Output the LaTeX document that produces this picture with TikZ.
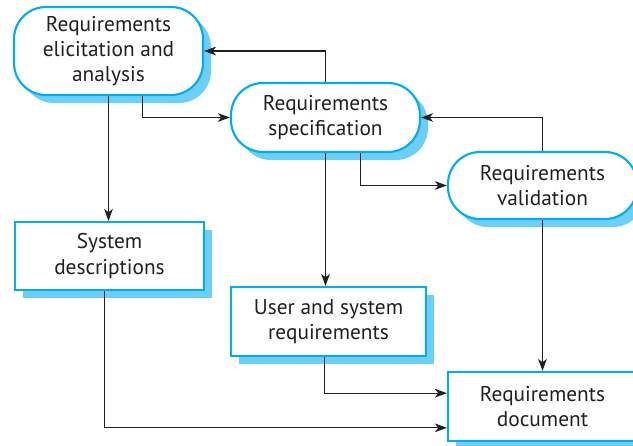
\documentclass[tikz,border=0pt]{standalone}
\usepackage{fontspec}
\setmainfont{PT Sans}
\usetikzlibrary{arrows.meta,shadows}
\definecolor{boxblue}{RGB}{0,174,239}
\definecolor{shadeblue}{RGB}{110,207,246}
\definecolor{inkgrey}{RGB}{35,31,32}
\begin{document}
\begin{tikzpicture}[x=0.75pt,y=0.75pt,yscale=-1,xscale=1,
  activity/.style={draw=boxblue, line width=1.6pt, fill=white, rounded corners=24pt, align=center, inner sep=0pt, text=inkgrey, font=\fontsize{16}{19}\selectfont, drop shadow={shadow xshift=6pt, shadow yshift=-6pt, fill=shadeblue, opacity=1}},
  docbox/.style={activity, sharp corners},
  flow/.style={draw=inkgrey, line width=0.8pt, -{Stealth[length=9pt,width=6.5pt,inset=2.5pt]}}]
%set diagram frame, 633 by 446
\useasboundingbox (0,0) rectangle (633,446);

% Activity Nodes
\node[activity, minimum width=141.75pt, minimum height=66pt] (elicit) at (108.5,51) {Requirements\\elicitation and\\analysis};
\node[activity, minimum width=141.75pt, minimum height=51.75pt] (spec) at (325.5,117.5) {Requirements\\specification};
\node[activity, minimum width=141.75pt, minimum height=50.25pt] (valid) at (542.5,185.5) {Requirements\\validation};

% Document Nodes
\node[docbox, minimum width=141.75pt, minimum height=51pt] (sysdesc) at (109.5,256) {System\\descriptions};
\node[docbox, minimum width=146.25pt, minimum height=51.75pt] (usersys) at (328.5,321.5) {User and system\\requirements};
\node[docbox, minimum width=141.75pt, minimum height=51.75pt] (reqdoc) at (542.5,406.5) {Requirements\\document};

% Connectors
\draw[flow] (elicit.south) -- (elicit.south |- sysdesc.north);
\draw[flow] ([xshift=25.5pt]elicit.south) |- (spec.west);
\draw[flow] (spec.north) |- (elicit.east);
\draw[flow] (spec.south) -- (spec.south |- usersys.north);
\draw[flow] ([xshift=26.5pt]spec.south) |- (valid.west);
\draw[flow] (valid.north) |- (spec.east);
\draw[flow] (valid.south) -- (reqdoc.north);
\draw[flow] ([xshift=-3pt]usersys.south) |- ([yshift=-10pt]reqdoc.west);
\draw[flow] ([xshift=-3.5pt]sysdesc.south) |- ([yshift=16pt]reqdoc.west);

\end{tikzpicture}
\end{document}
